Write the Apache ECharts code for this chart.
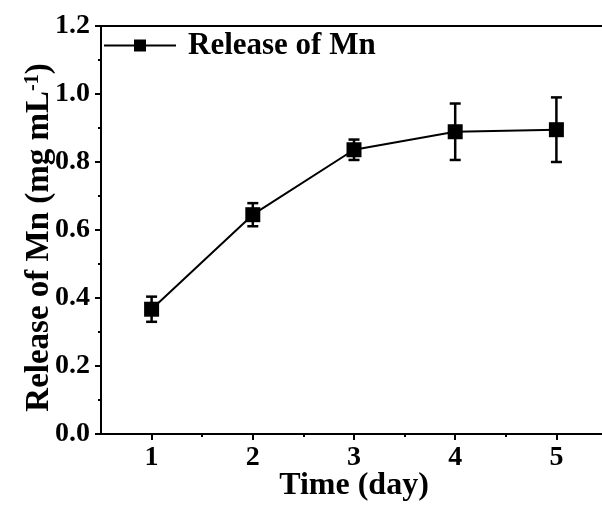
<!DOCTYPE html>
<html>
<head>
<meta charset="utf-8">
<script src="https://cdn.jsdelivr.net/npm/echarts@6/dist/echarts.min.js"></script>
<style>
html,body{margin:0;padding:0;background:#fff;}
#chart{width:602px;height:507px;}
</style>
</head>
<body>
<div id="chart"></div>
<script>
const days = [1, 2, 3, 4, 5];
const release = [0.367, 0.645, 0.836, 0.889, 0.895];
const errors = [0.037, 0.034, 0.030, 0.083, 0.095];
const xMajorTicks = [1, 2, 3, 4, 5];
const xMinorTicks = [1.5, 2.5, 3.5, 4.5];

const FONT = '"Liberation Serif", "Times New Roman", serif';
const chart = echarts.init(document.getElementById('chart'), null, {renderer: 'canvas'});

const lineData = days.map((d, i) => [d, release[i]]);
const errData = days.map((d, i) => [d, release[i] - errors[i], release[i] + errors[i]]);

const option = {
  animation: false,
  backgroundColor: '#ffffff',
  grid: {left: 101, top: 26, width: 506, height: 408, outerBoundsMode: 'none', containLabel: false},
  legend: {
    show: true,
    left: 103, top: 30, padding: 0,
    itemWidth: 72, itemHeight: 15,
    data: ['Release of Mn'],
    textStyle: {fontFamily: FONT, fontWeight: 'bold', fontSize: 31, color: '#000', padding: [0, 0, 0, 7]}
  },
  xAxis: [
    {
      type: 'value', min: 0.5, max: 5.5, position: 'bottom',
      name: 'Time (day)', nameLocation: 'middle', nameGap: 36, nameMoveOverlap: false,
      nameTextStyle: {fontFamily: FONT, fontWeight: 'bold', fontSize: 32, color: '#000'},
      axisLine: {show: true, lineStyle: {color: '#000', width: 2}},
      axisTick: {show: true, customValues: xMajorTicks, length: 6, lineStyle: {color: '#000', width: 2}},
      axisLabel: {show: true, customValues: xMajorTicks, margin: 10, fontFamily: FONT, fontWeight: 'bold', fontSize: 28, color: '#000'},
      splitLine: {show: false}
    },
    {
      type: 'value', min: 0.5, max: 5.5, position: 'bottom',
      axisLine: {show: false},
      axisTick: {show: true, customValues: xMinorTicks, length: 3, lineStyle: {color: '#000', width: 2}},
      axisLabel: {show: false},
      splitLine: {show: false}
    },
    {
      type: 'value', min: 0.5, max: 5.5, position: 'top',
      axisLine: {show: true, lineStyle: {color: '#000', width: 2}},
      axisTick: {show: false}, axisLabel: {show: false}, splitLine: {show: false}
    }
  ],
  yAxis: {
    type: 'value', min: 0, max: 1.2, interval: 0.2,
    name: 'Release of Mn (mg mL{sup|-1})', nameLocation: 'middle', nameGap: 45, nameMoveOverlap: false,
    nameRotate: 90,
    nameTextStyle: {
      fontFamily: FONT, fontWeight: 'bold', fontSize: 33, color: '#000', padding: [0, 15, 0, 0],
      rich: {sup: {fontFamily: FONT, fontWeight: 'bold', fontSize: 20, color: '#000', verticalAlign: 'top', lineHeight: 20, padding: [0,0,13,0]}}
    },
    axisLine: {show: true, lineStyle: {color: '#000', width: 2}},
    axisTick: {show: true, length: 6, lineStyle: {color: '#000', width: 2}},
    minorTick: {show: true, splitNumber: 2, length: 3, lineStyle: {color: '#000', width: 2}},
    axisLabel: {margin: 11, fontFamily: FONT, fontWeight: 'bold', fontSize: 28, color: '#000', formatter: v => v.toFixed(1)},
    splitLine: {show: false}
  },
  series: [
    {
      name: 'Release of Mn', type: 'line', xAxisIndex: 0,
      data: lineData,
      symbol: 'rect', symbolSize: 15,
      itemStyle: {color: '#000'},
      lineStyle: {color: '#000', width: 2},
      z: 3
    },
    {
      name: 'err', type: 'custom', xAxisIndex: 0,
      data: errData,
      renderItem: function (params, api) {
        const x = api.value(0);
        const lo = api.coord([x, api.value(1)]);
        const hi = api.coord([x, api.value(2)]);
        const cap = 5.5;
        const st = {stroke: '#000', lineWidth: 2.5};
        return {
          type: 'group',
          children: [
            {type: 'line', shape: {x1: lo[0], y1: lo[1], x2: hi[0], y2: hi[1]}, style: st},
            {type: 'line', shape: {x1: lo[0] - cap, y1: lo[1], x2: lo[0] + cap, y2: lo[1]}, style: st},
            {type: 'line', shape: {x1: hi[0] - cap, y1: hi[1], x2: hi[0] + cap, y2: hi[1]}, style: st}
          ]
        };
      },
      z: 4
    }
  ]
};
chart.setOption(option);
</script>
</body>
</html>
